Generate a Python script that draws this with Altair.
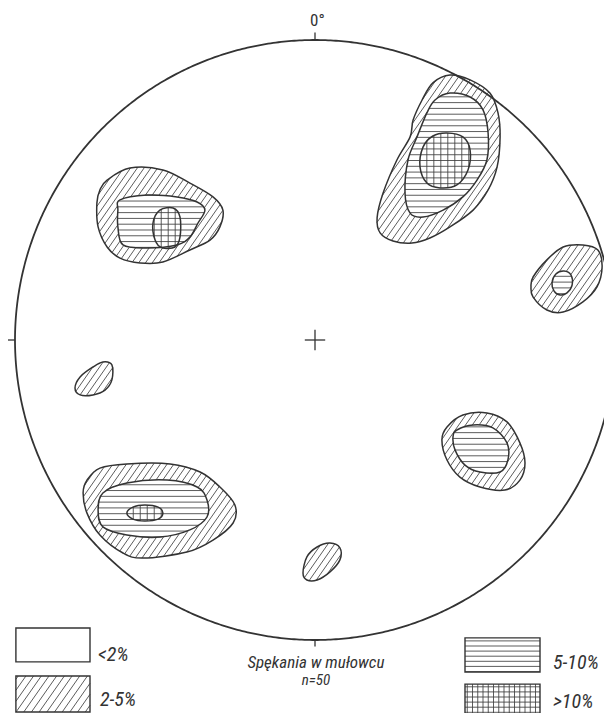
import numpy as np
import pandas as pd
import altair as alt

# ---------------- data (stereonet units, net radius = 100, x = east, y = north) ----------------
# each blob: outlines of the 2 %, 5 % and 10 % contours (outer -> inner)
A_2 = [(45, 88.3), (51.7, 86.7), (58.3, 82.3), (61, 75.7), (61.7, 67.7), (60.7, 57.7), (57.7, 50),
       (52.7, 43.3), (45, 37.7), (38.3, 34), (32.3, 32.3), (26, 33), (21.7, 35.7), (20.7, 40.7),
       (22.7, 49), (27.3, 60), (31.7, 67.7), (32.7, 73.3), (35.7, 80), (39.3, 85.7)]
A_5 = [(45, 82.3), (51.7, 81), (56, 76.7), (57.7, 69), (57.3, 60), (54, 53.3), (49.3, 47.7),
       (42.7, 43.3), (36, 41), (31.7, 42.3), (30, 49), (31, 60), (34, 67.7), (37.3, 75.7), (40, 80)]
A_10 = [(44, 69), (49.3, 67.7), (51.7, 63.3), (51, 56.7), (47.3, 51.7), (41.7, 50.7), (37.3, 52.3),
        (35, 57.7), (36, 64.3), (39.3, 68)]

B_2 = [(-71.7, 50), (-69.3, 53.3), (-61.7, 57.3), (-50.7, 56.7), (-41.7, 52.3), (-34, 47.7),
       (-30.7, 43.3), (-31.7, 37.7), (-35, 33.3), (-41.7, 30), (-50.7, 26), (-58.3, 25.7),
       (-65, 27.3), (-69.3, 31), (-72.3, 37.7), (-72.7, 45.7)]
B_5 = [(-65, 46.7), (-56, 48.3), (-46, 47.7), (-39.3, 46), (-36.7, 43.3), (-39, 39), (-41.7, 34.3),
       (-46, 31.7), (-56, 30.7), (-64, 31.7), (-65.7, 37.7), (-65.7, 43.3)]
B_10 = [(-51.7, 43.3), (-47.3, 44), (-45, 41), (-45, 34.3), (-46.7, 31), (-51, 30.7), (-53.3, 33.3),
        (-54, 39)]

C_2 = [(-77.3, -51), (-76, -46.7), (-71.7, -42.7), (-62.7, -41.3), (-48.3, -41.3), (-38.3, -44),
       (-31.7, -49), (-26.7, -55), (-27.3, -61), (-34, -66.7), (-42.7, -70.7), (-57.3, -72.7),
       (-64, -71), (-71.7, -65), (-76, -57.7)]
C_5 = [(-70.7, -51), (-62.7, -47.7), (-49.3, -46.7), (-39.3, -49), (-36, -53.3), (-36, -59),
       (-41.7, -63.3), (-51.7, -65.7), (-62.7, -65), (-70.7, -62.3), (-72.3, -56.7)]
C_10 = [(-62.7, -57.7), (-60.7, -55.7), (-56.7, -55), (-52.3, -55.7), (-50.7, -57.7), (-52.3, -59.7),
        (-56.7, -60.3), (-60.7, -59.7)]

D_2 = [(72, 17.7), (72.7, 21), (77.3, 26.7), (82.7, 31), (89.3, 31.7), (94.3, 30), (95.7, 24.3),
       (94, 17.7), (89.3, 12.7), (82.7, 9.3), (77.3, 10), (72.7, 14.3)]
D_5 = [(79, 19), (80.3, 22), (83, 23), (85.3, 21.7), (85.7, 18.3), (84, 15.7), (81.7, 15), (79.7, 16.3)]

E_2 = [(42.3, -33.3), (44, -29), (49.3, -25), (57.3, -24.3), (64, -27.3), (68.3, -34.3), (70, -41),
       (68.3, -46.7), (63.3, -50), (55, -49), (48.3, -45.7), (44, -40)]
E_5 = [(46, -32.3), (47.3, -30), (52.7, -28.3), (59.3, -29.3), (64, -34.3), (64.3, -40), (61.7, -44),
       (55, -44), (50, -41.7), (46.7, -36.7)]

F_2 = [(-80, -16), (-78.3, -12.3), (-74, -9), (-70.7, -7.3), (-67.7, -8.3), (-67.7, -13.3),
       (-70, -16.7), (-74, -18.3), (-78.3, -18.3)]

G_2 = [(-4, -77.7), (-2.7, -72.3), (0.7, -69), (5, -67.7), (8.3, -69.3), (8.3, -73.3), (5, -77.3),
       (0.7, -80), (-2.7, -80)]

BLOBS = [("A", [A_2, A_5, A_10]), ("B", [B_2, B_5, B_10]), ("C", [C_2, C_5, C_10]),
         ("D", [D_2, D_5]), ("E", [E_2, E_5]), ("F", [F_2]), ("G", [G_2])]

LEGEND_LABELS = ["<2%", "2-5%", "5-10%", ">10%"]
CAPTION = ["Spękania w mułowcu", "n=50"]
AZIMUTH_LABEL = "0°"

# ---------------- geometry helpers (styling only) ----------------
def smooth(pts, n=16):
    P = np.array(pts, float)
    m = len(P)
    out = []
    for i in range(m):
        p0, p1, p2, p3 = P[(i - 1) % m], P[i], P[(i + 1) % m], P[(i + 2) % m]
        c1 = p1 + (p2 - p0) / 6.0
        c2 = p2 - (p3 - p1) / 6.0
        for t in np.linspace(0, 1, n, endpoint=False):
            out.append((1 - t) ** 3 * p1 + 3 * (1 - t) ** 2 * t * c1 + 3 * (1 - t) * t * t * c2 + t ** 3 * p2)
    return np.array(out)


def hatch(rings, angle_deg, spacing):
    a = np.radians(angle_deg)
    d = np.array([np.cos(a), np.sin(a)])
    nv = np.array([-np.sin(a), np.cos(a)])
    edges = []
    for R in rings:
        u = R @ d
        v = R @ nv
        edges.append((u, v, np.roll(u, -1), np.roll(v, -1)))
    vmin = min(e[1].min() for e in edges)
    vmax = max(e[1].max() for e in edges)
    segs = []
    for k in range(int(np.ceil(vmin / spacing)), int(np.floor(vmax / spacing)) + 1):
        vv = k * spacing
        xs = []
        for (u1, v1, u2, v2) in edges:
            mask = ((v1 <= vv) & (v2 > vv)) | ((v2 <= vv) & (v1 > vv))
            t = (vv - v1[mask]) / (v2[mask] - v1[mask])
            xs.extend(list(u1[mask] + t * (u2[mask] - u1[mask])))
        xs.sort()
        for i in range(0, len(xs) - 1, 2):
            p = xs[i] * d + vv * nv
            q = xs[i + 1] * d + vv * nv
            segs.append((p[0], p[1], q[0], q[1]))
    return segs


DIAG = (55, 1.85)
HORIZ = (0, 1.93)
VERT = (90, 2.33)

outline_rows = []
hatch_rows = []
for name, polys in BLOBS:
    dense = [smooth(p) for p in polys]
    for lvl, p in enumerate(polys):
        for j, (x, y) in enumerate(p):
            outline_rows.append({"id": f"{name}{lvl}", "ord": j, "x": x, "y": y})
    # 2-5 % band: diagonal hatching
    rings = [dense[0]] + ([dense[1]] if len(dense) > 1 else [])
    hatch_rows += hatch(rings, *DIAG)
    # 5-10 %: horizontal lines (continuing through the >10 % core)
    if len(dense) > 1:
        hatch_rows += hatch([dense[1]], *HORIZ)
    # >10 %: vertical lines complete the grid
    if len(dense) > 2:
        hatch_rows += hatch([dense[2]], *VERT)

# legend boxes (in net units, below the circle)
boxes = [(-99.7, -75, -96, -107.3), (-99.7, -75, -112, -124), (50, 75, -99.3, -110.7), (50, 75, -114.7, -126.7)]
legend_patterns = [[], [(55, 2.1)], [(0, 1.7)], [(0, 1.7), (90, 1.75)]]
for (x0, x1, y0, y1), pats in zip(boxes, legend_patterns):
    rect = np.array([(x0, y0), (x1, y0), (x1, y1), (x0, y1)], float)
    for ang, sp in pats:
        hatch_rows += hatch([rect], ang, sp)

outlines = pd.DataFrame(outline_rows)
hatches = pd.DataFrame(hatch_rows, columns=["x", "y", "x2", "y2"])
box_df = pd.DataFrame(boxes, columns=["x", "x2", "y", "y2"])

theta = np.linspace(0, 2 * np.pi, 721)
circle = pd.DataFrame({"x": 100 * np.cos(theta), "y": 100 * np.sin(theta), "ord": np.arange(721)})

ticks = pd.DataFrame([
    {"x": 0, "y": 100, "x2": 0, "y2": 102.5},
    {"x": -100, "y": 0, "x2": -102.7, "y2": 0},
    {"x": 0, "y": -100, "x2": 0, "y2": -102.2},
    {"x": 100, "y": 0, "x2": 102.7, "y2": 0},
    {"x": -3.4, "y": 0, "x2": 3.4, "y2": 0},
    {"x": 0, "y": -3.4, "x2": 0, "y2": 3.4},
])

legend_text = pd.DataFrame({
    "x": [-72.3, -71.7, 79.3, 79.3],
    "y": [-105, -120, -107.7, -120.8],
    "t": LEGEND_LABELS,
})
caption_text = pd.DataFrame({"x": [0.3, 0.3], "y": [-107.5, -113.2], "t": CAPTION, "s": [17, 15]})

# ---------------- chart ----------------
XS = alt.Scale(domain=[-102.333, 96.333], nice=False, zero=False)
YS = alt.Scale(domain=[-124.333, 110.667], nice=False, zero=False)
INK = "#333333"
FONT = "Liberation Sans Narrow, Roboto Condensed, DejaVu Sans Condensed, Roboto, sans-serif"


def X(f="x"):
    return alt.X(f"{f}:Q", scale=XS, axis=None)


def Y(f="y"):
    return alt.Y(f"{f}:Q", scale=YS, axis=None)


circ = alt.Chart(circle).mark_line(color=INK, strokeWidth=1.8, clip=True).encode(
    x=X(), y=Y(), order="ord:Q")

tick_layer = alt.Chart(ticks).mark_rule(color=INK, strokeWidth=1.3).encode(
    x=X(), y=Y(), x2="x2:Q", y2="y2:Q")

hatch_layer = alt.Chart(hatches).mark_rule(color="#3f3f3f", strokeWidth=0.85).encode(
    x=X(), y=Y(), x2="x2:Q", y2="y2:Q")

outline_layer = alt.Chart(outlines).mark_line(
    color=INK, strokeWidth=1.5, interpolate="cardinal-closed").encode(
    x=X(), y=Y(), detail="id:N", order="ord:Q")

box_layer = alt.Chart(box_df).mark_rect(fillOpacity=0, stroke=INK, strokeWidth=1.4).encode(
    x=X(), x2="x2:Q", y=Y(), y2="y2:Q")

north = alt.Chart(pd.DataFrame({"x": [0.8], "y": [106.3], "t": [AZIMUTH_LABEL]})).mark_text(
    font=FONT, fontSize=17, color=INK, align="center", baseline="middle").encode(
    x=X(), y=Y(), text="t:N")

leg_txt = alt.Chart(legend_text).mark_text(
    font=FONT, fontSize=20, fontStyle="italic", color=INK, align="left", baseline="middle").encode(
    x=X(), y=Y(), text="t:N")

cap_txt = alt.Chart(caption_text).mark_text(
    font=FONT, fontStyle="italic", color=INK, align="center", baseline="middle").encode(
    x=X(), y=Y(), text="t:N", size=alt.Size("s:Q", scale=None, legend=None))

chart = alt.layer(circ, tick_layer, hatch_layer, outline_layer, box_layer, north, leg_txt, cap_txt).properties(
    width=596, height=705, padding=0, autosize=alt.AutoSizeParams(type="none"),
    background="white",
).configure_view(stroke=None)

chart.save("out.html", embed_options={"renderer": "svg", "actions": False})
